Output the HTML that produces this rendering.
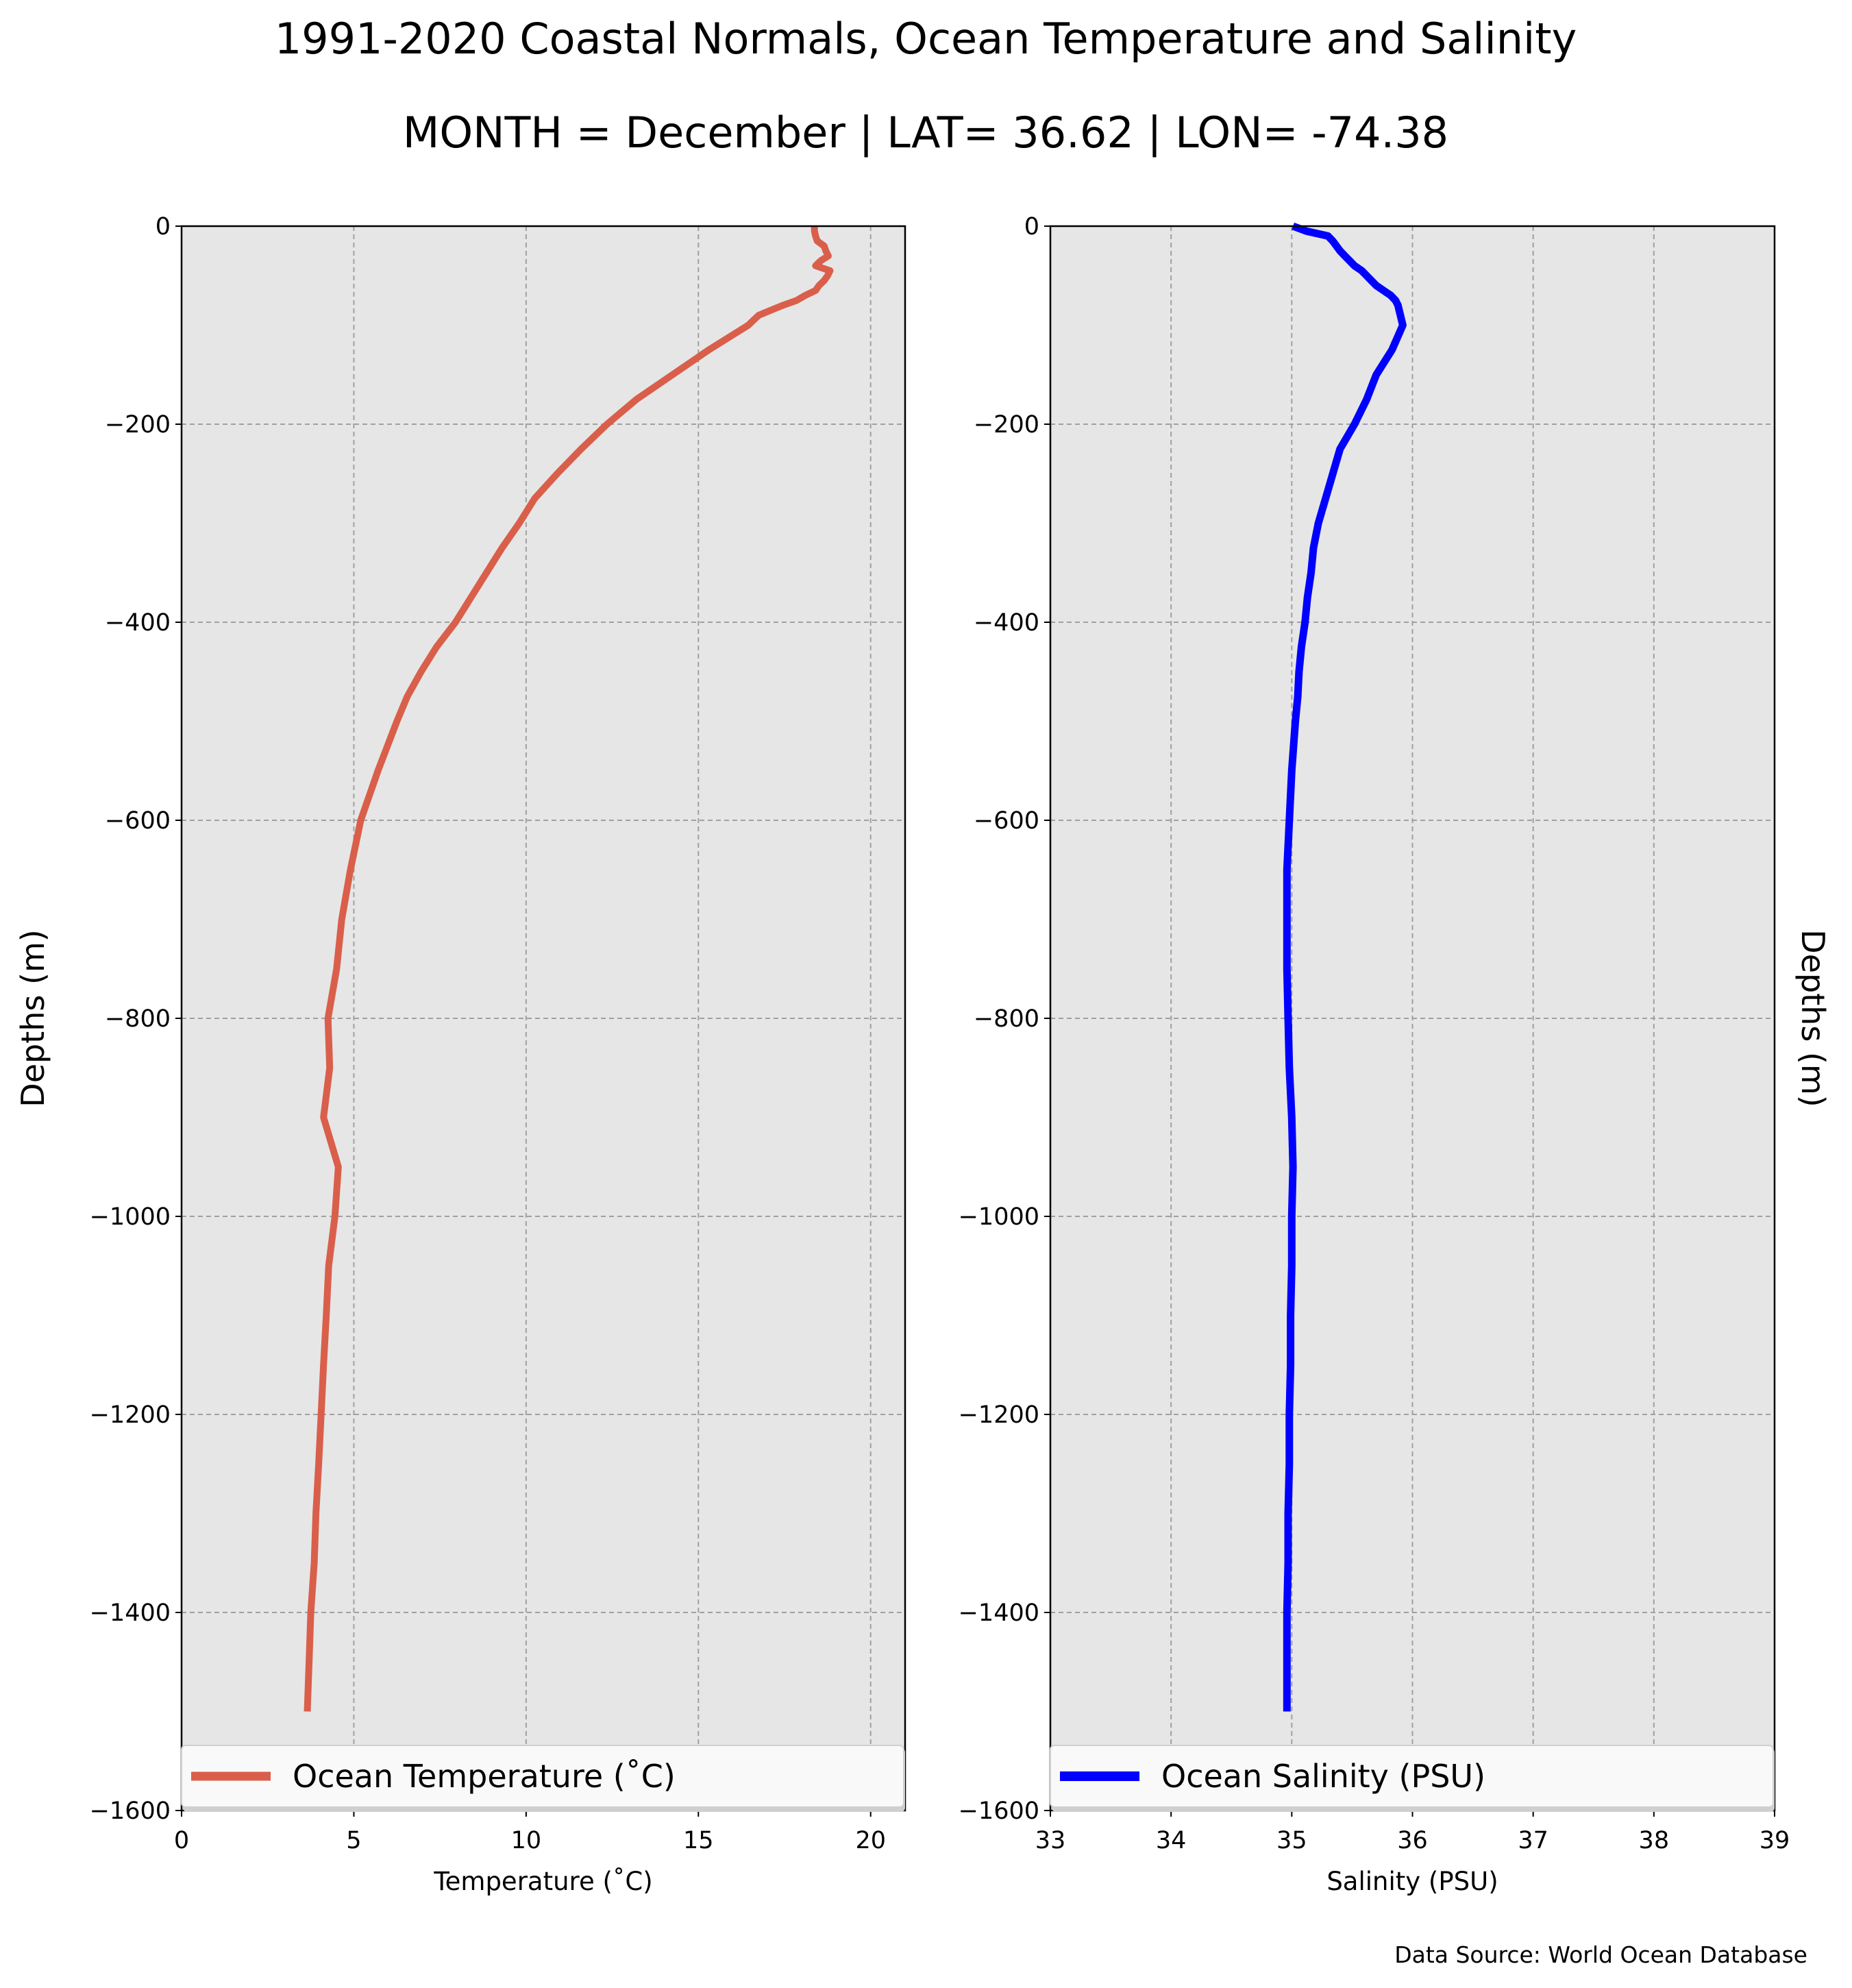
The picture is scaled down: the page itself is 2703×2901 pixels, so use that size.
<!DOCTYPE html>
<html><head><meta charset="utf-8"><style>
body{margin:0;background:#fff}
svg{display:block;font-family:"DejaVu Sans","Liberation Sans",sans-serif}
</style></head><body>
<svg id="chart" width="2703" height="2901" viewBox="0 0 2703 2901" xmlns="http://www.w3.org/2000/svg">
<text x="1351" y="78" font-size="62" text-anchor="middle">1991-2020 Coastal Normals, Ocean Temperature and Salinity</text>
<text x="1351" y="215" font-size="62" text-anchor="middle">MONTH = December | LAT= 36.62 | LON= -74.38</text>
<g id="p1"></g>
<g id="p2"></g>
<text transform="translate(64,1486) rotate(-90)" font-size="46" text-anchor="middle">Depths (m)</text>
<text transform="translate(2630,1486) rotate(90)" font-size="46" text-anchor="middle">Depths (m)</text>
<text x="2638" y="2864" font-size="33" text-anchor="end">Data Source: World Ocean Database</text>
</svg>
<script>
const depths=[0,5,10,15,20,25,30,35,40,45,50,55,60,65,70,75,80,85,90,95,100,125,150,175,200,225,250,275,300,325,350,375,400,425,450,475,500,550,600,650,700,750,800,850,900,950,1000,1050,1100,1150,1200,1250,1300,1350,1400,1450,1500];
const temperature=[18.37,18.37,18.4,18.45,18.65,18.7,18.77,18.55,18.4,18.82,18.75,18.65,18.5,18.4,18.1,17.85,17.45,17.1,16.75,16.6,16.45,15.3,14.25,13.2,12.35,11.6,10.9,10.25,9.8,9.3,8.85,8.4,7.95,7.4,6.95,6.55,6.25,5.7,5.2,4.9,4.65,4.5,4.25,4.3,4.12,4.55,4.45,4.27,4.2,4.12,4.05,3.98,3.9,3.85,3.75,3.7,3.65];
const salinity=[35.01,35.12,35.3,35.34,35.37,35.4,35.44,35.48,35.52,35.58,35.62,35.66,35.7,35.76,35.82,35.86,35.88,35.89,35.9,35.91,35.92,35.83,35.7,35.62,35.52,35.4,35.34,35.28,35.22,35.18,35.16,35.13,35.11,35.08,35.06,35.05,35.03,35.0,34.98,34.96,34.96,34.96,34.97,34.98,35.0,35.01,35.0,35.0,34.99,34.99,34.98,34.98,34.97,34.97,34.96,34.96,34.96];
const yTicks=[0,-200,-400,-600,-800,-1000,-1200,-1400,-1600];
const tTicks=[0,5,10,15,20];
const sTicks=[33,34,35,36,37,38,39];
const NS="http://www.w3.org/2000/svg";
const yTop=330,yBot=2642;
function yScale(v){return yTop+(0-v)/1600*(yBot-yTop);}
function mk(p,tag,at){const e=document.createElementNS(NS,tag);for(const k in at)e.setAttribute(k,at[k]);p.appendChild(e);return e;}
function panel(g,x0,x1,dmin,dmax,ticks,vals,color,lw,legend,xlabel,prefix){
  const xs=v=>x0+(v-dmin)/(dmax-dmin)*(x1-x0);
  const bg=mk(g,'rect',{x:x0,y:yTop,width:x1-x0,height:yBot-yTop,fill:'#e6e6e6'});
  
  
  ticks.forEach(t=>{const x=xs(t);
    if(t!==dmin&&t!==dmax){const l=mk(g,'line',{x1:x,x2:x,y1:yTop,y2:yBot,stroke:'#a0a0a0','stroke-width':2,'stroke-dasharray':'7,5'});
    
    }
    const tk=mk(g,'line',{x1:x,x2:x,y1:yBot,y2:yBot+9,stroke:'#000','stroke-width':2});
    
    
    const tx=mk(g,'text',{x:x,y:2697,'font-size':35,'text-anchor':'middle'});tx.textContent=t;
    
    
  });
  yTicks.forEach(t=>{const y=yScale(t);
    if(t!==0&&t!==-1600){const l=mk(g,'line',{x1:x0,x2:x1,y1:y,y2:y,stroke:'#a0a0a0','stroke-width':2,'stroke-dasharray':'7,5'});
    
    }
    const tk=mk(g,'line',{x1:x0-9,x2:x0,y1:y,y2:y,stroke:'#000','stroke-width':2});
    
    
    const tx=mk(g,'text',{x:x0-16,y:y+12,'font-size':35,'text-anchor':'end'});tx.textContent=t===0?'0':'\u2212'+(-t);
    
    
  });
  const pts=depths.map((d,i)=>xs(vals[i]).toFixed(1)+','+yScale(-d).toFixed(1)).join(' ');
  const pl=mk(g,'polyline',{points:pts,fill:'none',stroke:color,'stroke-width':lw,'stroke-linejoin':'round'});
  
  
  const fr=mk(g,'rect',{x:x0,y:yTop,width:x1-x0,height:yBot-yTop,fill:'none',stroke:'#000','stroke-width':2.5});
  
  
  const lg=mk(g,'g',{});
  
  
  mk(lg,'rect',{x:x0+2,y:2551,width:x1-x0-2,height:93,fill:'#cfcfcf',rx:6});
  mk(lg,'rect',{x:x0,y:2547,width:x1-x0-2,height:90,fill:'#f9f9f9',stroke:'#d0d0d0','stroke-width':2,rx:6});
  mk(lg,'line',{x1:x0+14,x2:x0+130,y1:2592,y2:2592,stroke:color,'stroke-width':lw+3});
  const lt=mk(lg,'text',{x:x0+162,y:2608,'font-size':46});lt.textContent=legend;
  
  
  const xl=mk(g,'text',{x:(x0+x1)/2,y:2758,'font-size':37,'text-anchor':'middle'});xl.textContent=xlabel;
  
  
}
panel(document.getElementById('p1'),265,1321,0,21,tTicks,temperature,'#d95f4b',10,'Ocean Temperature (\u02daC)','Temperature (\u02daC)','temperature');
panel(document.getElementById('p2'),1533,2590,33,39,sTicks,salinity,'#0000ff',11,'Ocean Salinity (PSU)','Salinity (PSU)','salinity');
</script>
</body></html>
